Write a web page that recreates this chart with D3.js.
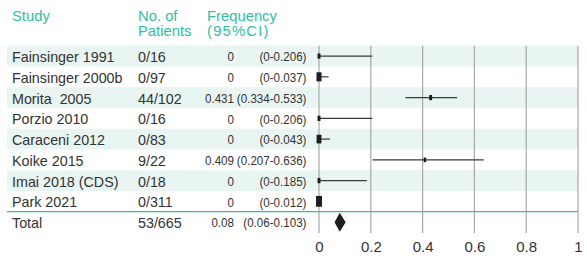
<!DOCTYPE html>
<html>
<head>
<meta charset="utf-8">
<script src="https://d3js.org/d3.v7.min.js"></script>
<style>
  html, body { margin: 0; padding: 0; background: #fff; }
  text { font-family: "Liberation Sans", Arial, sans-serif; }
</style>
</head>
<body>
<div id="chart"></div>
<script>
// Study data
const studies = ['Fainsinger 1991', 'Fainsinger 2000b', 'Morita  2005', 'Porzio 2010',
                 'Caraceni 2012', 'Koike 2015', 'Imai 2018 (CDS)', 'Park 2021'];
const patients = ['0/16', '0/97', '44/102', '0/16', '0/83', '9/22', '0/18', '0/311'];
const freq = [0, 0, 0.431, 0, 0, 0.409, 0, 0];
const ciLow = [0, 0, 0.334, 0, 0, 0.207, 0, 0];
const ciHigh = [0.206, 0.037, 0.533, 0.206, 0.043, 0.636, 0.185, 0.012];
const weights = [4, 12, 4, 4, 11, 3, 4, 17];   // relative study weight (%)
const total = { label: 'Total', patients: '53/665', freq: 0.08, low: 0.06, high: 0.103 };
const xTicks = [0, 0.2, 0.4, 0.6, 0.8, 1];

const width = 587, height = 258;
const teal = '#2fbfa5';

const svg = d3.select('#chart').append('svg')
  .attr('width', width)
  .attr('height', height);

// scales
const x = d3.scaleLinear().domain([0, 1]).range([319, 578]);
const y = d3.scaleBand().domain(studies).range([45.7, 211.7]).paddingInner(0);
const size = d3.scaleSqrt().domain([0, 17]).range([0, 6]);

const fmtCI = (lo, hi) => `(${lo}-${hi})`;

// row shading
svg.append('g')
  .selectAll('rect')
  .data(studies.filter((d, i) => i % 2 === 0))
  .join('rect')
  .attr('x', 7)
  .attr('y', d => y(d))
  .attr('width', x(1) - 7)
  .attr('height', y.bandwidth())
  .attr('fill', '#e8f5f2');

// vertical grid
svg.append('g')
  .selectAll('line')
  .data(xTicks)
  .join('line')
  .attr('x1', d => x(d)).attr('x2', d => x(d))
  .attr('y1', 45.7).attr('y2', 233)
  .attr('stroke', '#a8a8a8')
  .attr('stroke-width', 1.2);

// teal separator above Total
svg.append('line')
  .attr('x1', 7).attr('x2', x(1))
  .attr('y1', 211.7).attr('y2', 211.7)
  .attr('stroke', teal)
  .attr('stroke-width', 1.2);

// header (two-line labels as tspans)
const headers = [
  { x: 12, lines: ['Study'] },
  { x: 138, lines: ['No. of', 'Patients'] },
  { x: 207, lines: ['Frequency', '(95%CI)'] }
];
const header = svg.append('g').attr('fill', teal).style('font-size', '14.8px');
header.selectAll('text')
  .data(headers)
  .join('text')
  .attr('y', 20.5)
  .each(function(d) {
    d3.select(this).selectAll('tspan')
      .data(d.lines)
      .join('tspan')
      .attr('x', d.x)
      .attr('dy', (l, i) => i === 0 ? 0 : 15.5)
      .attr('letter-spacing', (l, i) => i === 1 && d.x === 207 ? 1.2 : 0)
      .text(l => l);
  });

// table rows
const rows = studies.map((s, i) => ({
  study: s, patients: patients[i], freq: freq[i], low: ciLow[i], high: ciHigh[i], w: weights[i],
  cy: y(s) + y.bandwidth() / 2
}));
const totalY = 222.3;

const tableRows = rows.concat([{ study: total.label, patients: total.patients, freq: total.freq,
  low: total.low, high: total.high, cy: totalY }]);

const tbl = svg.append('g').attr('fill', '#333').style('font-size', '14.3px');

tbl.selectAll('text.study')
  .data(tableRows)
  .join('text')
  .attr('class', 'study')
  .attr('x', 12)
  .attr('y', d => d.cy + 6)
  .style('white-space', 'pre')
  .attr('xml:space', 'preserve')
  .text(d => d.study);

tbl.selectAll('text.pat')
  .data(tableRows)
  .join('text')
  .attr('class', 'pat')
  .attr('x', 138)
  .attr('y', d => d.cy + 6)
  .text(d => d.patients);

// condensed number columns
const sx = 0.86;
const cond = tbl.append('g')
  .attr('transform', `scale(${sx},1)`)
  .style('font-size', '13.5px');

cond.selectAll('text.freq')
  .data(tableRows)
  .join('text')
  .attr('class', 'freq')
  .attr('x', 234 / sx)
  .attr('y', d => d.cy + 5.2)
  .attr('text-anchor', 'end')
  .text(d => String(d.freq));

cond.selectAll('text.ci')
  .data(tableRows)
  .join('text')
  .attr('class', 'ci')
  .attr('x', 306.5 / sx)
  .attr('y', d => d.cy + 5.2)
  .attr('text-anchor', 'end')
  .text(d => fmtCI(d.low, d.high));

// CI lines
const marks = svg.append('g');
marks.selectAll('line.ci')
  .data(rows)
  .join('line')
  .attr('class', 'ci')
  .attr('x1', d => x(d.low)).attr('x2', d => x(d.high))
  .attr('y1', d => d.cy).attr('y2', d => d.cy)
  .attr('stroke', '#3a3a3a')
  .attr('stroke-width', 1.2);

// point estimates (size by weight)
marks.selectAll('rect.pt')
  .data(rows)
  .join('rect')
  .attr('class', 'pt')
  .attr('x', d => x(d.freq) - size(d.w) / 2)
  .attr('y', d => d.cy - size(d.w) * 0.9)
  .attr('width', d => size(d.w))
  .attr('height', d => size(d.w) * 1.8)
  .attr('fill', '#1e1e1e');

// pooled diamond
marks.append('path')
  .attr('d', `M${x(total.low)},${totalY} L${x(total.freq)},${totalY - 9.5} L${x(total.high)},${totalY} L${x(total.freq)},${totalY + 9.5} Z`)
  .attr('fill', '#1e1e1e');

// x axis labels
const axis = d3.axisBottom(x).tickValues(xTicks).tickSize(0).tickPadding(0)
  .tickFormat(d => d3.format('')(d));
const ax = svg.append('g').attr('transform', 'translate(0,241)').call(axis);
ax.select('.domain').remove();
ax.selectAll('text')
  .attr('dy', '0.71em')
  .style('font-size', '15px')
  .style('font-family', '"Liberation Sans", Arial, sans-serif')
  .attr('fill', '#333');
</script>
</body>
</html>
